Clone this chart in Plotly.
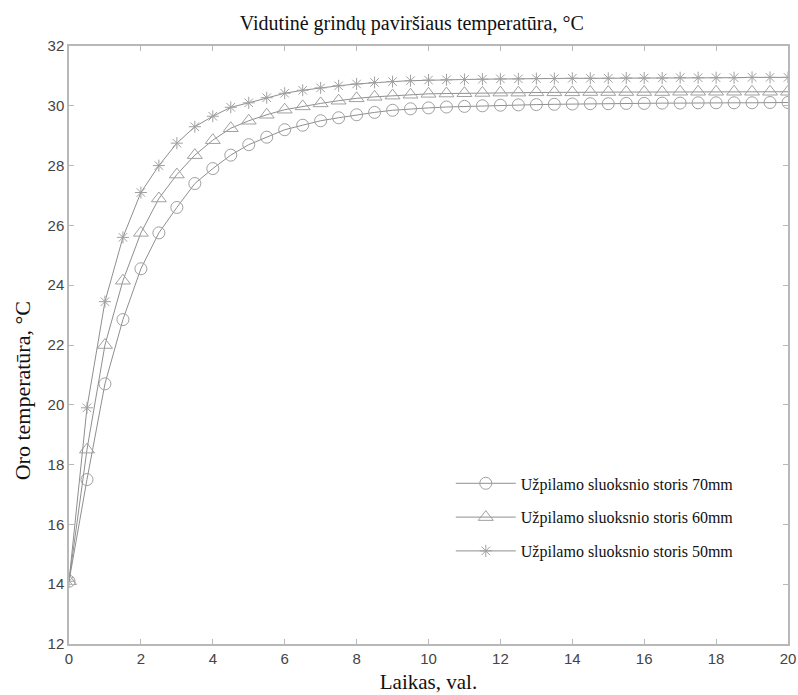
import plotly.graph_objects as go

time_h = [i * 0.5 for i in range(41)]

temp_70mm = [14.1, 17.5, 20.7, 22.85, 24.55, 25.75, 26.6, 27.4, 27.9, 28.35,
             28.7, 28.95, 29.2, 29.35, 29.5, 29.6, 29.7, 29.78, 29.85, 29.9,
             29.93, 29.96, 29.98, 30.0, 30.02, 30.03, 30.04, 30.05, 30.06, 30.07,
             30.07, 30.08, 30.08, 30.09, 30.09, 30.1, 30.1, 30.1, 30.1, 30.11, 30.11]

temp_60mm = [14.1, 18.5, 22.0, 24.15, 25.75, 26.9, 27.7, 28.35, 28.85, 29.25,
             29.5, 29.7, 29.87, 29.98, 30.08, 30.17, 30.25, 30.3, 30.34, 30.37,
             30.4, 30.41, 30.42, 30.43, 30.44, 30.44, 30.45, 30.45, 30.45, 30.46,
             30.46, 30.46, 30.46, 30.46, 30.47, 30.47, 30.47, 30.47, 30.47, 30.47, 30.47]

temp_50mm = [14.1, 19.9, 23.45, 25.6, 27.1, 28.0, 28.75, 29.3, 29.65, 29.95,
             30.1, 30.27, 30.42, 30.52, 30.6, 30.67, 30.73, 30.78, 30.81, 30.84,
             30.86, 30.87, 30.88, 30.89, 30.9, 30.9, 30.91, 30.91, 30.92, 30.92,
             30.92, 30.93, 30.93, 30.93, 30.94, 30.94, 30.94, 30.94, 30.95, 30.95, 30.95]

series_names = ["Užpilamo sluoksnio storis 70mm",
                "Užpilamo sluoksnio storis 60mm",
                "Užpilamo sluoksnio storis 50mm"]

x_ticks = list(range(0, 21, 2))
y_ticks = list(range(12, 33, 2))

SERIF = "Liberation Serif, Times New Roman, serif"
SANS = "Liberation Sans, Arial, sans-serif"

fig = go.Figure()
styles = [("circle-open", 12), ("triangle-up-open", 13), ("asterisk-open", 10)]
for i, (vals, name) in enumerate(zip([temp_70mm, temp_60mm, temp_50mm], series_names)):
    sym, size = styles[i]
    fig.add_trace(go.Scatter(
        x=time_h, y=vals, name=name, mode="lines+markers",
        legendgroup=f"g{i}",
        line=dict(color="#8f8f8f", width=1),
        marker=dict(symbol=sym, size=size, color="#a0a0a0",
                    line=dict(color="#a0a0a0", width=1)),
    ))

axis_common = dict(
    showline=True, linecolor="#b8b8b8", linewidth=1.5, mirror="ticks",
    ticks="inside", ticklen=5, tickcolor="#b8b8b8", tickwidth=1,
    showgrid=False, zeroline=False, automargin=False,
    tickfont=dict(family=SANS, size=15, color="#444"),
    title_font=dict(family=SERIF, size=21, color="#111"),
)

fig.update_layout(
    width=798, height=695,
    margin=dict(l=69, r=10, t=46, b=51),
    paper_bgcolor="white", plot_bgcolor="white",
    title=dict(text="Vidutinė grindų paviršiaus temperatūra, °C",
               x=0.516, xanchor="center", y=0.967, yanchor="middle",
               font=dict(family=SERIF, size=20, color="#111")),
    xaxis=dict(range=[0, 20], tickvals=x_ticks, title=dict(text="Laikas, val.", standoff=9), **axis_common),
    yaxis=dict(range=[12, 32], tickvals=y_ticks, **axis_common),
    legend=dict(x=0.531, y=0.297, xanchor="left", yanchor="top",
                bgcolor="rgba(0,0,0,0)", tracegroupgap=10, itemwidth=60,
                font=dict(family=SERIF, size=16, color="#111")),
    showlegend=True,
    annotations=[dict(text="Oro temperatūra, °C", textangle=-90,
                      xref="paper", yref="paper", x=-0.065, y=0.423,
                      xanchor="center", yanchor="middle", showarrow=False,
                      font=dict(family=SERIF, size=22, color="#111"))],
)

fig.write_html("out.html",
               config={"displayModeBar": False},
               post_script="document.body.style.margin='0';document.body.style.overflow='hidden';")
